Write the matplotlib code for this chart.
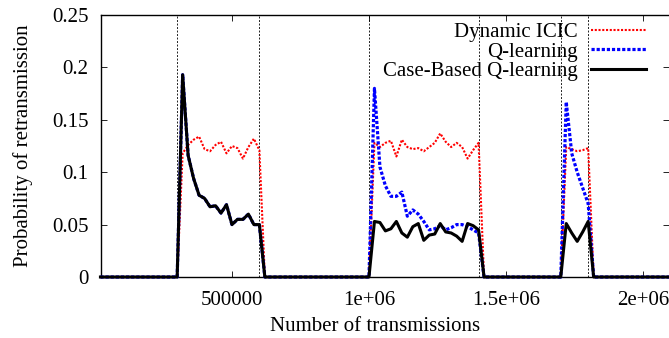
import numpy as np
import matplotlib
matplotlib.use('Agg')
import matplotlib.pyplot as plt

# legend labels
labels = ['Dynamic ICIC', 'Q-learning', 'Case-Based Q-learning']

# phase edges (dotted vertical lines), samples every 20000 transmissions
phase_bounds = [300000, 600000, 1000000, 1400000, 1700000, 1800000]
step = 20000
x_first, x_last = 20000, 2100000

# values inside each phase (outside them everything is 0)
red_p1 = [0.118, 0.126, 0.131, 0.134, 0.122, 0.120, 0.126, 0.129, 0.118, 0.125, 0.123, 0.113, 0.124, 0.132, 0.121]
red_p2 = [0.128, 0.124, 0.128, 0.130, 0.115, 0.131, 0.124, 0.122, 0.123, 0.120,
          0.124, 0.128, 0.137, 0.129, 0.124, 0.128, 0.124, 0.113, 0.121, 0.128]
red_p3 = [0.124, 0.122, 0.120, 0.121, 0.123]

blue_p1 = [0.193, 0.116, 0.094, 0.078, 0.075, 0.067, 0.068, 0.061, 0.069, 0.050, 0.055, 0.055, 0.060, 0.050, 0.050]
blue_p2 = [0.180, 0.105, 0.087, 0.077, 0.077, 0.081, 0.058, 0.064, 0.060, 0.053,
           0.045, 0.046, 0.049, 0.045, 0.047, 0.050, 0.050, 0.048, 0.045, 0.042]
blue_p3 = [0.167, 0.118, 0.100, 0.085, 0.070]

black_p1 = [0.193, 0.116, 0.094, 0.078, 0.075, 0.067, 0.068, 0.061, 0.069, 0.050, 0.055, 0.055, 0.060, 0.050, 0.050]
black_p2 = [0.053, 0.052, 0.044, 0.046, 0.053, 0.042, 0.038, 0.048, 0.051, 0.035,
            0.040, 0.041, 0.051, 0.043, 0.042, 0.039, 0.034, 0.051, 0.049, 0.045]
black_p3 = [0.051, 0.042, 0.034, 0.043, 0.053]

xticks = [500000, 1000000, 1500000, 2000000]
xtick_labels = ['500000', '1e+06', '1.5e+06', '2e+06']
yticks = [0, 0.05, 0.1, 0.15, 0.2, 0.25]
ytick_labels = ['0', '0.05', '0.1', '0.15', '0.2', '0.25']


def build(segs):
    x = np.arange(x_first, x_last + step, step)
    y = np.zeros(len(x))
    for i, vals in enumerate(segs):
        lo, hi = phase_bounds[2 * i], phase_bounds[2 * i + 1]
        y[(x > lo) & (x <= hi)] = vals
    return x, y


plt.rcParams['font.family'] = ['Liberation Serif', 'DejaVu Serif']
plt.rcParams['font.size'] = 15

fig = plt.figure(figsize=(6.69, 3.38), dpi=100)
ax = fig.add_axes([101 / 669, 61 / 338, 568 / 669, 262 / 338])

for b in phase_bounds:
    ax.axvline(b, color='#222222', lw=0.7, ls=(0, (2, 1.6)), zorder=1)

x, y = build([red_p1, red_p2, red_p3])
ax.plot(x, y, color='red', lw=1.5, ls=(0, (1, 0.8)), label=labels[0], zorder=3, clip_on=False)
x, y = build([blue_p1, blue_p2, blue_p3])
ax.plot(x, y, color='blue', lw=2.3, ls=(0, (1, 0.6)), label=labels[1], zorder=4, clip_on=False)
x, y = build([black_p1, black_p2, black_p3])
ax.plot(x, y, color='black', lw=2.2, label=labels[2], zorder=5, clip_on=False)

ax.set_xlim(22000, 2095000)
ax.set_ylim(0, 0.25)
ax.set_xticks(xticks)
ax.set_xticklabels(xtick_labels)
ax.set_yticks(yticks)
ax.set_yticklabels(ytick_labels)
ax.tick_params(direction='in', length=4, width=0.6, top=True, right=True)
ax.tick_params(axis='x', pad=10)
ax.tick_params(axis='y', pad=9)
ax.spines['right'].set_visible(False)
for s in ['left', 'top', 'bottom']:
    ax.spines[s].set_linewidth(1.0)

ax.set_xlabel('Number of transmissions')
ax.xaxis.set_label_coords(0.482, -0.152)
ax.set_ylabel('Probability of retransmission')
ax.yaxis.set_label_coords(-0.12, 0.5)

ax.legend(loc='upper right', bbox_to_anchor=(0.9595, 0.972), frameon=False,
          markerfirst=False, handlelength=2.65, handletextpad=0.62,
          labelspacing=0.0, borderpad=0, borderaxespad=0)

fig.savefig('out.png', dpi=100)
